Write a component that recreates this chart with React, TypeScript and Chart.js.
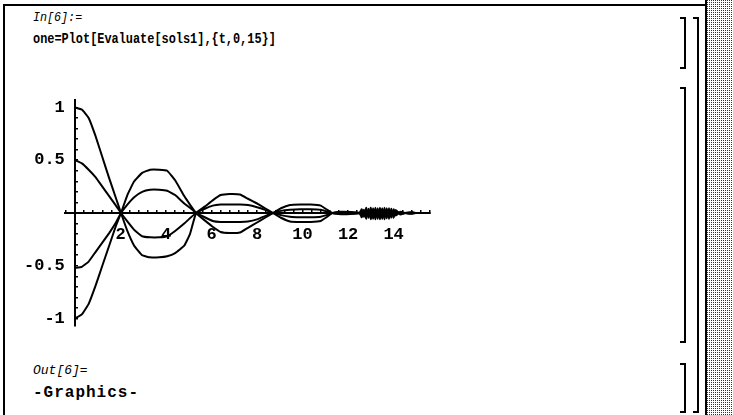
import React, { useEffect, useRef } from 'react';
import { Chart, registerables } from 'chart.js';

Chart.register(...registerables);

// ---- data ----
const tValues = [
  0, 0.3, 0.6, 0.9, 1.2, 1.5, 1.8,
  2.02, 2.3, 2.6, 2.95, 3.3, 3.7, 4.05, 4.4, 4.8, 5.05,
  5.32, 5.7, 6.05, 6.4, 6.8, 7.25, 7.6, 8.0, 8.35,
  8.7, 9.05, 9.45, 9.9, 10.35, 10.8, 11.05,
  11.3, 11.7, 12.1,
  12.5, 12.6, 12.7, 12.8, 12.9, 13.0, 13.1, 13.2, 13.3, 13.4, 13.5, 13.6, 13.7, 13.8, 13.9, 14.0, 14.1,
  14.3, 14.5, 14.8, 15,
];

const solPlusOne = [
  1, 0.98, 0.9, 0.73, 0.53, 0.33, 0.14,
  0, -0.17, -0.31, -0.4, -0.42, -0.42, -0.41, -0.38, -0.31, -0.2,
  0, 0.06, 0.12, 0.17, 0.18, 0.175, 0.135, 0.09, 0.045,
  0, -0.045, -0.08, -0.085, -0.085, -0.075, -0.04,
  0, 0.012, 0.01,
  0, -0.04, 0.03, -0.055, 0.04, -0.06, 0.045, -0.06, 0.045, -0.06, 0.045, -0.06, 0.045, -0.055, 0.04, -0.045, 0.03,
  -0.015, 0, 0.008, 0,
];

const solPlusHalf = [
  0.5, 0.47, 0.41, 0.34, 0.25, 0.16, 0.07,
  0, -0.08, -0.16, -0.22, -0.23, -0.23, -0.22, -0.17, -0.1, -0.05,
  0, 0.04, 0.07, 0.08, 0.08, 0.08, 0.075, 0.055, 0.03,
  0, -0.02, -0.035, -0.04, -0.04, -0.035, -0.02,
  0, -0.006, -0.005,
  0, 0.02, -0.025, 0.03, -0.03, 0.03, -0.035, 0.03, -0.035, 0.03, -0.035, 0.03, -0.03, 0.025, -0.025, 0.02, -0.015,
  0.008, 0, -0.004, 0,
];

const solMinusHalf = [
  -0.52, -0.51, -0.46, -0.37, -0.28, -0.19, -0.09,
  0, 0.08, 0.15, 0.2, 0.22, 0.22, 0.21, 0.17, 0.09, 0.05,
  0, -0.04, -0.075, -0.085, -0.085, -0.085, -0.08, -0.06, -0.03,
  0, 0.02, 0.03, 0.035, 0.035, 0.03, 0.015,
  0, 0.006, 0.005,
  0, -0.025, 0.02, -0.035, 0.03, -0.035, 0.03, -0.035, 0.03, -0.035, 0.03, -0.035, 0.03, -0.03, 0.025, -0.025, 0.015,
  -0.008, 0, 0.004, 0,
];

const solMinusOne = [
  -1, -0.96, -0.86, -0.69, -0.5, -0.31, -0.12,
  0, 0.17, 0.3, 0.38, 0.41, 0.41, 0.4, 0.31, 0.16, 0.08,
  0, -0.07, -0.13, -0.18, -0.19, -0.185, -0.14, -0.09, -0.045,
  0, 0.045, 0.075, 0.08, 0.08, 0.07, 0.035,
  0, -0.012, -0.01,
  0, 0.035, -0.035, 0.05, -0.045, 0.05, -0.055, 0.05, -0.055, 0.05, -0.055, 0.05, -0.05, 0.045, -0.045, 0.035, -0.025,
  0.012, 0, -0.008, 0,
];

const xTickValues = [2, 4, 6, 8, 10, 12, 14];
const xTickLabels = ['2', '4', '6', '8', '10', '12', '14'];
const yTickValues = [-1, -0.5, 0.5, 1];
const yTickLabels = ['-1', '-0.5', '0.5', '1'];
const xMinorStep = 0.4;
const yMinorStep = 0.1;

const X_MIN = -0.44;
const X_MAX = 15.6;
const Y_MIN = -1.07;
const Y_MAX = 1.07;

function minorTicks(min: number, max: number, step: number) {
  const out: { value: number }[] = [];
  const start = Math.ceil(min / step - 1e-9);
  const end = Math.floor(max / step + 1e-9);
  for (let k = start; k <= end; k++) {
    if (k === 0) continue;
    out.push({ value: Math.round(k * step * 1000) / 1000 });
  }
  return out;
}

function labelFor(value: number, vals: number[], labels: string[], suffix = '') {
  for (let i = 0; i < vals.length; i++) {
    if (Math.abs(vals[i] - value) < 1e-6) return labels[i] + suffix;
  }
  return '';
}

const series = [solPlusOne, solPlusHalf, solMinusHalf, solMinusOne];

function App() {
  const ref = useRef<HTMLCanvasElement | null>(null);

  useEffect(() => {
    const canvas = ref.current;
    if (!canvas) return;
    const tickFont = { family: '"Liberation Mono", "DejaVu Sans Mono", monospace', size: 17, weight: 'bold' as const };
    const chart = new Chart(canvas, {
      type: 'scatter',
      data: {
        datasets: series.map((s) => ({
          data: tValues.map((t, i) => ({ x: t, y: s[i] })),
          showLine: true,
          borderColor: '#000',
          borderWidth: 2,
          pointRadius: 0,
          tension: 0.1,
          fill: false,
        })),
      },
      options: {
        animation: false,
        responsive: false,
        devicePixelRatio: 1,
        layout: { padding: { left: 65, right: 303, top: 100, bottom: 89 } },
        plugins: { legend: { display: false }, tooltip: { enabled: false } },
        scales: {
          x: {
            type: 'linear',
            min: X_MIN,
            max: X_MAX,
            position: { y: 0 } as any,
            afterFit: (scale: any) => { scale.height = 0; },
            afterBuildTicks: (scale: any) => { scale.ticks = minorTicks(X_MIN, X_MAX, xMinorStep); },
            border: { display: true, color: '#000', width: 2 },
            grid: { drawOnChartArea: false, drawTicks: true, tickLength: -4, color: '#000', lineWidth: 1.5 },
            ticks: {
              autoSkip: false,
              maxRotation: 0,
              padding: 16,
              color: '#000',
              font: tickFont,
              callback: (v: any) => labelFor(Number(v), xTickValues, xTickLabels),
            },
          },
          y: {
            type: 'linear',
            min: Y_MIN,
            max: Y_MAX,
            position: { x: 0 } as any,
            afterFit: (scale: any) => { scale.width = 0; },
            afterBuildTicks: (scale: any) => { scale.ticks = minorTicks(-1, 1, yMinorStep); },
            border: { display: true, color: '#000', width: 2 },
            grid: { drawOnChartArea: false, drawTicks: true, tickLength: -4, color: '#000', lineWidth: 1.5 },
            ticks: {
              autoSkip: false,
              padding: 15,
              color: '#000',
              font: tickFont,
              callback: (v: any) => labelFor(Number(v), yTickValues, yTickLabels, ' '),
            },
          },
        },
      },
    });
    return () => chart.destroy();
  }, []);

  const mono = '"Liberation Mono", "DejaVu Sans Mono", monospace';
  const txt = (top: number, text: string, style: React.CSSProperties) => (
    <div style={{ position: 'absolute', left: 33, top, fontSize: 12, lineHeight: '16px', whiteSpace: 'pre', color: '#000', fontFamily: mono, transformOrigin: 'left center', ...style }}>{text}</div>
  );
  const bracket = (left: number, top: number, height: number) => (
    <div style={{ position: 'absolute', left, top, width: 6, height, borderTop: '2px solid #000', borderRight: '2px solid #000', borderBottom: '2px solid #000', boxSizing: 'border-box' }} />
  );

  return (
    <div style={{ position: 'absolute', left: 0, top: 0, width: 733, height: 415, background: '#fff', overflow: 'hidden' }}>
      <div style={{ position: 'absolute', left: 3, top: 4, width: 702, height: 2, background: '#000' }} />
      <div style={{ position: 'absolute', left: 3, top: 4, width: 2, height: 411, background: '#000' }} />
      <div style={{ position: 'absolute', left: 705, top: 0, width: 2, height: 415, background: '#000' }} />
      <div style={{ position: 'absolute', left: 707, top: 0, width: 26, height: 415, backgroundImage: 'conic-gradient(at 1px 1px, #fff 0 75%, #333 0)', backgroundSize: '2px 2px' }} />
      {txt(10, 'In[6]:=', { fontStyle: 'italic', fontSize: 13, transform: 'scaleX(0.9)' })}
      {txt(31, 'one=Plot[Evaluate[sols1],{t,0,15}]', { fontWeight: 'bold', fontSize: 14, transform: 'scaleX(0.85)' })}
      {txt(363, 'Out[6]=', { fontStyle: 'italic', fontSize: 13 })}
      {txt(385, '-Graphics-', { fontWeight: 'bold', fontSize: 16, letterSpacing: '1px' })}
      {bracket(680, 17, 52)}
      {bracket(680, 87, 256)}
      {bracket(680, 363, 50)}
      {bracket(693, 17, 396)}
      <canvas ref={ref} width={733} height={415} style={{ position: 'absolute', left: 0, top: 0, width: 733, height: 415 }} />
    </div>
  );
}

export default App;
